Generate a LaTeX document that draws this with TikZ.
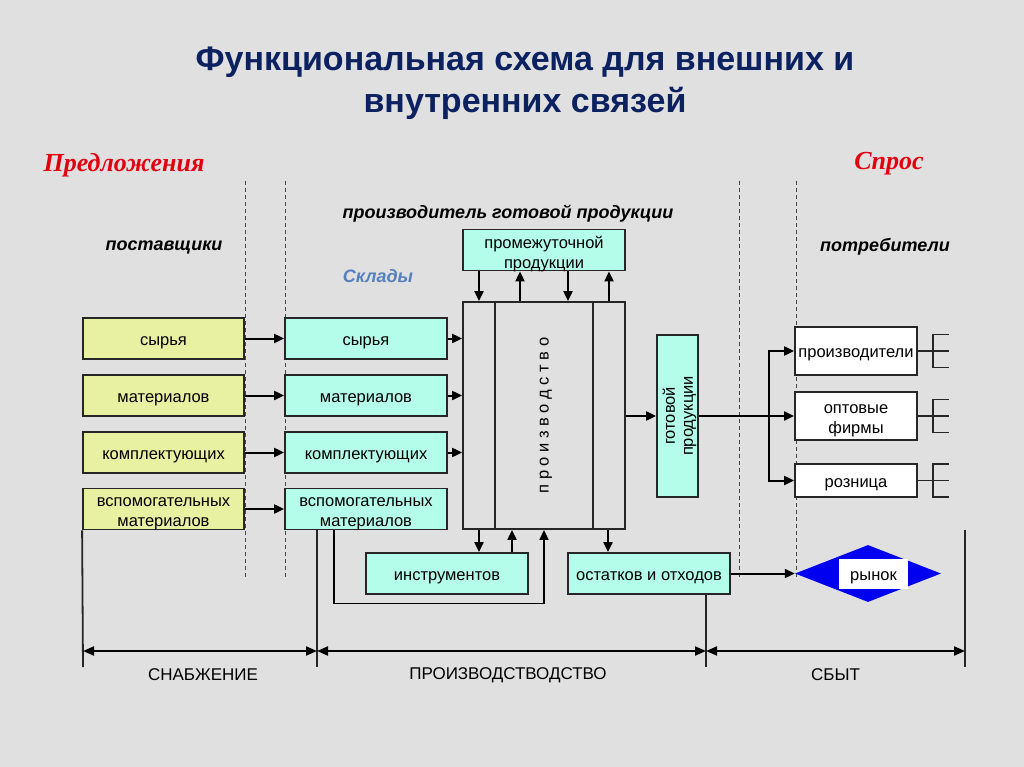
\documentclass[tikz,border=0pt]{standalone}
\usepackage{fontspec}
\setmainfont{Liberation Sans}
\newfontfamily\serifbi{Liberation Serif}
\usetikzlibrary{arrows.meta,shapes.geometric}

\definecolor{bg}{HTML}{E0E0E0}
\definecolor{ybox}{HTML}{E8F0A2}
\definecolor{cbox}{HTML}{B4FDEA}
\definecolor{navy}{HTML}{0B2160}
\definecolor{redh}{HTML}{E00010}
\definecolor{skl}{HTML}{5580BE}
\definecolor{edge}{HTML}{262626}
\definecolor{rblue}{HTML}{0000F0}

\tikzset{
 box/.style={draw=edge, line width=1.8pt, minimum height=41pt, minimum width=161pt, inner sep=0pt, align=center, font=\fontsize{16.5}{20}\selectfont, text height=13pt, text depth=0pt},
 two/.style={text height=35pt, text depth=0pt},
 ybx/.style={box, fill=ybox},
 cbx/.style={box, fill=cbox, minimum width=162pt},
 wbx/.style={box, fill=white, minimum width=122pt},
 arr/.style={line width=2pt, draw=black, -{Triangle[length=10pt,width=9pt]}},
 ln/.style={line width=1.8pt, draw=edge},
 tree/.style={line width=1.6pt, draw=edge},
 dsep/.style={line width=1pt, dash pattern=on 4pt off 3pt, draw=edge!85!white},
 dimarr/.style={line width=2pt, {Triangle[length=11pt,width=9pt]}-{Triangle[length=11pt,width=9pt]}},
 lab/.style={font=\fontsize{18}{21}\selectfont\bfseries\itshape},
 redlab/.style={font=\serifbi\fontsize{26}{30}\selectfont\bfseries\itshape, text=redh},
 dimlab/.style={font=\fontsize{17}{20}\selectfont},
}

\begin{document}
\begin{tikzpicture}[x=1pt,y=-1pt]
\fill[bg] (0,0) rectangle (1024,767);
\useasboundingbox (0,0) rectangle (1024,767);

% title
\node[font=\fontsize{34}{42}\selectfont\bfseries, text=navy, align=center] (title) at (525,83) {Функциональная схема для внешних и\\внутренних связей};

% headings
\node[redlab] (pred) at (124,165) {Предложения};
\node[redlab] (spros) at (889,164) {Спрос};
\node[lab] (prodlab) at (508,214) {производитель готовой продукции};
\node[lab] (post) at (164,247) {поставщики};
\node[lab] (potr) at (885,247) {потребители};
\node[lab, text=skl] (skl) at (378,276) {Склады};

% dashed separators
\draw[dsep] (245,181) -- (245,578);
\draw[dsep] (285,181) -- (285,578);
\draw[dsep] (739,181) -- (739,577);
\draw[dsep] (796,181) -- (796,577);

% suppliers
\node[ybx] (y1) at (163.5,338.5) {сырья};
\node[ybx] (y2) at (163.5,395.5) {материалов};
\node[ybx] (y3) at (163.5,452.5) {комплектующих};
\node[ybx, two] (y4) at (163.5,509) {вспомогательных\\материалов};

% warehouses
\node[cbx] (c1) at (366,338.5) {сырья};
\node[cbx] (c2) at (366,395.5) {материалов};
\node[cbx] (c3) at (366,452.5) {комплектующих};
\node[cbx, two] (c4) at (366,509) {вспомогательных\\материалов};

\foreach \i in {1,2,3,4}{\draw[arr] (y\i) -- (c\i);}

% production
\node[cbx, text height=36pt] (prom) at (544,250) {промежуточной\\продукции};
\node[draw=edge, line width=1.8pt, minimum width=162pt, minimum height=227pt, inner sep=0pt] (prod) at (544,415.5) {};
\draw[ln] ([xshift=-49pt]prod.north) -- ([xshift=-49pt]prod.south);
\draw[ln] ([xshift=49pt]prod.north) -- ([xshift=49pt]prod.south);
\node[rotate=90, font=\fontsize{16.5}{20}\selectfont] (prodtxt) at ([xshift=2pt]prod.center) {п р о и з в о д с т в о};

\foreach \i in {1,2,3}{\draw[arr] (c\i.east) -- (c\i.east -| prod.west);}

\draw[arr] ([xshift=-65pt]prom.south) -- ([xshift=-65pt]prod.north);
\draw[arr] ([xshift=-24pt]prod.north) -- ([xshift=-24pt]prom.south);
\draw[arr] ([xshift=24pt]prom.south) -- ([xshift=24pt]prod.north);
\draw[arr] ([xshift=65pt]prod.north) -- ([xshift=65pt]prom.south);

% finished goods
\node[box, fill=cbox, minimum width=41pt, minimum height=162pt] (got) at (677.5,416) {};
\node[rotate=90, align=center, font=\fontsize{16.5}{18}\selectfont] (gottxt) at ([xshift=2pt]got.center) {готовой\\продукции};
\draw[arr] (prod.east |- got.west) -- (got.west);

% consumers
\node[wbx, minimum height=48pt] (pr) at (856,351) {производители};
\node[wbx, two, minimum height=48pt] (opt) at (856,416) {оптовые\\фирмы};
\node[wbx, minimum height=33pt] (roz) at (856,480.5) {розница};

\draw[arr] (got.east) -- (opt.west);
\coordinate (jn) at (769,416);
\draw[arr] (jn) |- (pr.west);
\draw[arr] (jn) |- (roz.west);

\foreach \n/\yy in {pr/351, opt/416, roz/480.5}{
  \draw[tree] (\n.east) -- (933,\yy) -- (949,\yy);
  \draw[tree] (949,\yy-16.5) -- (933,\yy-16.5) -- (933,\yy+16.5) -- (949,\yy+16.5);
}

% bottom row
\node[cbx] (ins) at (447,573.5) {инструментов};
\node[cbx] (ost) at (649,573.5) {остатков и отходов};

\draw[arr] ([xshift=-65pt]prod.south) -- ([xshift=-65pt]prod.south |- ins.north);
\draw[arr] ([xshift=-32pt]prod.south |- ins.north) -- ([xshift=-32pt]prod.south);
\draw[arr] ([xshift=64pt]prod.south) -- ([xshift=64pt]prod.south |- ost.north);
\draw[arr, line width=1.6pt] ([xshift=-32pt]c4.south) -- ++(0,73) -| (prod.south);

% market
\node[diamond, fill=rblue, minimum width=146pt, minimum height=57pt, inner sep=0pt] (ryn) at (868,573.5) {};
\node[fill=white, minimum width=69pt, minimum height=30pt, inner sep=0pt, font=\fontsize{16.5}{20}\selectfont, text height=12pt, text depth=0pt] (rtxt) at (873.5,574) {рынок};
\draw[arr] (ost) -- (ryn);

% dimension lines
\coordinate (d0) at (83,651);
\coordinate (d1) at (317,651);
\coordinate (d2) at (706,651);
\coordinate (d3) at (965,651);
\draw[ln] (y4.south west) -- (83,667);
\draw[ln] ([xshift=-49pt]c4.south) -- (317,667);
\draw[ln] ([xshift=57pt]ost.south) -- (706,667);
\draw[ln] (965,530) -- (965,667);
\draw[dimarr] (d0) -- (d1);
\draw[dimarr] (d1) -- (d2);
\draw[dimarr] (d2) -- (d3);

\node[dimlab] (snab) at (203,675) {СНАБЖЕНИЕ};
\node[dimlab] (proizv) at (508,675) {ПРОИЗВОДСТВОДСТВО};
\node[dimlab] (sbyt) at (835.5,675) {СБЫТ};
\end{tikzpicture}
\end{document}
